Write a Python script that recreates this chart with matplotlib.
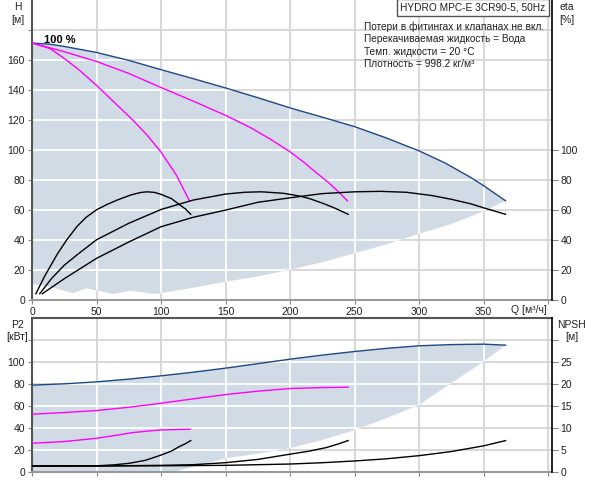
import matplotlib
matplotlib.use("Agg")
import matplotlib.pyplot as plt

plt.rcParams['font.family'] = ['Liberation Sans', 'DejaVu Sans']
plt.rcParams['font.size'] = 7.5

# --- H curves (Q in m3/h, H in m) ---
h100_q = [0, 14, 25, 50, 75, 100, 125, 150, 175, 200, 225, 250, 275, 300, 320, 340, 350, 367]
h100_h = [171.3, 170.5, 169, 165, 159.7, 153.5, 147.5, 141.3, 134.8, 128, 121.8, 115.5, 107.8, 99.3, 91.3, 81.6, 76.1, 66]
hA_q = [0, 3, 14, 25, 37, 50, 64, 78, 89, 100, 112, 122]
hA_h = [171.3, 170.5, 167.6, 161, 153, 143, 131.5, 120, 110, 98.5, 83, 66]
hB_q = [0, 25, 50, 75, 100, 125, 150, 169, 185, 200, 211, 221, 230, 237.5, 244.5]
hB_h = [171.3, 165.5, 159, 151, 141.6, 132.5, 123, 115, 107, 98.7, 91.5, 84.3, 78, 72, 66]
# lower edge of the H operating area
h_low_q = [367, 350, 325, 300, 275, 250, 225, 200, 175, 150, 125, 99, 95, 76, 63, 42, 32, 14, 0]
h_low_h = [66, 59, 50.5, 44, 37, 31, 25, 20, 15.5, 12, 8, 4.3, 3.8, 6, 3.8, 7.6, 4.3, 8.7, 10.5]

# --- eta curves [%] ---
eta1_q = [3, 10, 20, 27, 35, 42, 50, 58, 66, 77, 84, 89, 95, 100, 108, 115, 119, 123]
eta1_e = [4, 16, 31, 40, 49, 55, 60, 63.5, 66.5, 70, 71.5, 72, 71.6, 70.3, 67.5, 63, 60.5, 57]
eta2_q = [6, 15, 25, 35, 50, 75, 100, 125, 150, 165, 178, 195, 207.8, 215, 225.8, 235, 245]
eta2_e = [4, 14, 23, 30, 40, 51, 60.2, 66.5, 70.5, 71.7, 72, 71, 69.1, 67.5, 64.2, 61, 57]
eta3_q = [8, 25, 50, 75, 100, 125, 150, 175, 200, 225, 250, 270, 290, 310, 325, 340, 350, 367]
eta3_e = [4, 14, 27.6, 38.5, 48.7, 55, 59.8, 65, 68, 70.8, 72, 72.3, 71.7, 69.5, 67, 64, 61.3, 57]

# --- P2 curves [kW] ---
p100_q = [0, 25, 50, 75, 100, 125, 150, 175, 200, 225, 250, 275, 300, 325, 350, 367]
p100_p = [79, 80.2, 82, 84.5, 87.5, 90.8, 94.5, 98.6, 102.7, 106.4, 109.7, 112.6, 114.9, 116, 116.4, 115.5]
pB_q = [0, 25, 50, 75, 100, 125, 150, 175, 200, 225, 245]
pB_p = [52.5, 54, 55.8, 58.8, 62.5, 66.5, 70.4, 73.5, 75.9, 76.8, 77.1]
pA_q = [0, 25, 50, 65, 78, 90, 100, 112, 122.5]
pA_p = [26, 27.5, 30.5, 33.2, 35.7, 37.1, 38.1, 38.5, 38.7]
p_low_q = [367, 350, 329, 300, 275, 250, 225, 200, 175, 150, 120, 110, 0]
p_low_p = [115.5, 100.5, 84, 61, 49, 38, 29, 21.5, 16.5, 12.2, 3, 0, 0]

# --- NPSH curves [m] ---
nA_q = [0, 25, 50, 63, 75, 88, 100, 108, 114, 119, 123]
nA_n = [1.3, 1.3, 1.35, 1.55, 1.9, 2.6, 3.8, 4.7, 5.7, 6.4, 7.1]
nB_q = [0, 50, 100, 125, 150, 175, 200, 215, 228, 237, 245]
nB_n = [1.3, 1.3, 1.45, 1.6, 2.06, 2.8, 4.0, 4.7, 5.5, 6.3, 7.1]
nC_q = [0, 100, 150, 200, 225, 250, 275, 300, 325, 350, 367]
nC_n = [1.3, 1.35, 1.45, 1.75, 2.05, 2.45, 2.95, 3.66, 4.6, 5.9, 7.1]

notes = ["Потери в фитингах и клапанах не вкл.",
         "Перекачиваемая жидкость = Вода",
         "Темп. жидкости = 20 °C",
         "Плотность = 998.2 кг/м³"]

FILL = '#d0dbe6'
GRID = '#d6d6d6'
BLUE = '#1f4a85'
MAG = '#ff00ff'
W, H = 592, 480

fig = plt.figure(figsize=(W / 100, H / 100), dpi=100)
ax1 = fig.add_axes([32 / W, 1 - 299.7 / H, 520 / W, 299.7 / H])
ax2 = fig.add_axes([32 / W, 1 - 471.7 / H, 520 / W, (471.7 - 318.3) / H])


def style(ax, xt, yt, ylim, hide_y):
    ax.set_xlim(0, 403)
    ax.set_ylim(*ylim)
    ax.set_xticks(xt)
    ax.set_yticks(yt)
    ax.set_axisbelow(True)
    ax.grid(color=GRID, lw=1.3)
    ax.spines['left'].set_color('#555555')
    ax.spines['left'].set_linewidth(1.5)
    ax.spines['bottom'].set_color('#999999')
    ax.spines['bottom'].set_linewidth(1.5)
    ax.spines['right'].set_visible(False)
    ax.tick_params(length=3, color='#888888', pad=2, labelcolor='#222222')
    ax.set_yticklabels([str(v) if v not in hide_y else '' for v in yt])


def white_grid(ax, patch, xt, yt):
    for v in xt:
        ax.axvline(v, color='white', lw=1.3, zorder=1.2).set_clip_path(patch)
    for v in yt:
        ax.axhline(v, color='white', lw=1.3, zorder=1.2).set_clip_path(patch)


xt = list(range(0, 401, 50))

# top: H / eta
style(ax1, xt, list(range(0, 181, 20)), (0, 200), [180])
ax1.spines['top'].set_visible(False)
ax1.set_xticklabels([str(v) if v < 400 else '' for v in xt])
patch1 = ax1.fill(h100_q + h_low_q, h100_h + h_low_h, color=FILL, lw=0, zorder=1)[0]
white_grid(ax1, patch1, xt, range(20, 181, 20))
ax1.plot(h100_q, h100_h, color=BLUE, lw=1.0, zorder=3)
ax1.plot(hA_q, hA_h, color=MAG, lw=1.0, zorder=3)
ax1.plot(hB_q, hB_h, color=MAG, lw=1.0, zorder=3)
ax1.text(9.5, 173.6, "100 %", fontsize=8, fontweight='bold', va='center')

t1 = ax1.twinx()
t1.set_ylim(0, 200)
t1.set_yticks(range(0, 101, 20))
for s in ['left', 'top', 'bottom']:
    t1.spines[s].set_visible(False)
t1.spines['right'].set_color('black')
t1.spines['right'].set_linewidth(1.2)
t1.tick_params(length=4, color='#888888', pad=2, labelcolor='#222222')
for q, e in [(eta1_q, eta1_e), (eta2_q, eta2_e), (eta3_q, eta3_e)]:
    t1.plot(q, e, color='black', lw=1.0)

# bottom: P2 / NPSH
style(ax2, xt, list(range(0, 121, 20)), (0, 140), [120])
ax2.spines['top'].set_color('#555555')
ax2.spines['top'].set_linewidth(1.5)
ax2.set_xticklabels([])
patch2 = ax2.fill(p100_q + p_low_q, p100_p + p_low_p, color=FILL, lw=0, zorder=1)[0]
white_grid(ax2, patch2, xt, range(20, 121, 20))
ax2.plot(p100_q, p100_p, color=BLUE, lw=1.0, zorder=3)
ax2.plot(pB_q, pB_p, color=MAG, lw=1.0, zorder=3)
ax2.plot(pA_q, pA_p, color=MAG, lw=1.0, zorder=3)

t2 = ax2.twinx()
t2.set_ylim(0, 35)
t2.set_yticks(range(0, 31, 5))
t2.set_yticklabels([str(v) if v < 30 else '' for v in range(0, 31, 5)])
for s in ['left', 'top', 'bottom']:
    t2.spines[s].set_visible(False)
t2.spines['right'].set_color('black')
t2.spines['right'].set_linewidth(1.2)
t2.tick_params(length=4, color='#888888', pad=2, labelcolor='#222222')
for q, n in [(nA_q, nA_n), (nB_q, nB_n), (nC_q, nC_n)]:
    t2.plot(q, n, color='black', lw=1.0)


# labels placed in pixel positions
def ftext(x, y, s, **kw):
    fig.text(x / W, 1 - y / H, s, va='center', color='#222222', **kw)


ftext(18, 7, "H", ha='center')
ftext(18, 20, "[м]", ha='center')
ftext(567, 7, "eta", ha='center')
ftext(567, 20, "[%]", ha='center')
ftext(17, 325, "P2", ha='center')
ftext(17, 337, "[кВт]", ha='center')
ftext(572, 325, "NPSH", ha='center')
ftext(572, 337, "[м]", ha='center')
ftext(547, 310, "Q [м³/ч]", ha='right')
for i, line in enumerate(notes):
    ftext(364, 27 + i * 12.3, line, ha='left', fontsize=7.3)
fig.text(473 / W, 1 - 7.5 / H, "HYDRO MPC-E 3CR90-5, 50Hz", ha='center', va='center',
         color='#222222', fontsize=7.3,
         bbox=dict(boxstyle='square,pad=0.35', fc='white', ec='#555555', lw=1))

fig.savefig("out.png", dpi=100)
